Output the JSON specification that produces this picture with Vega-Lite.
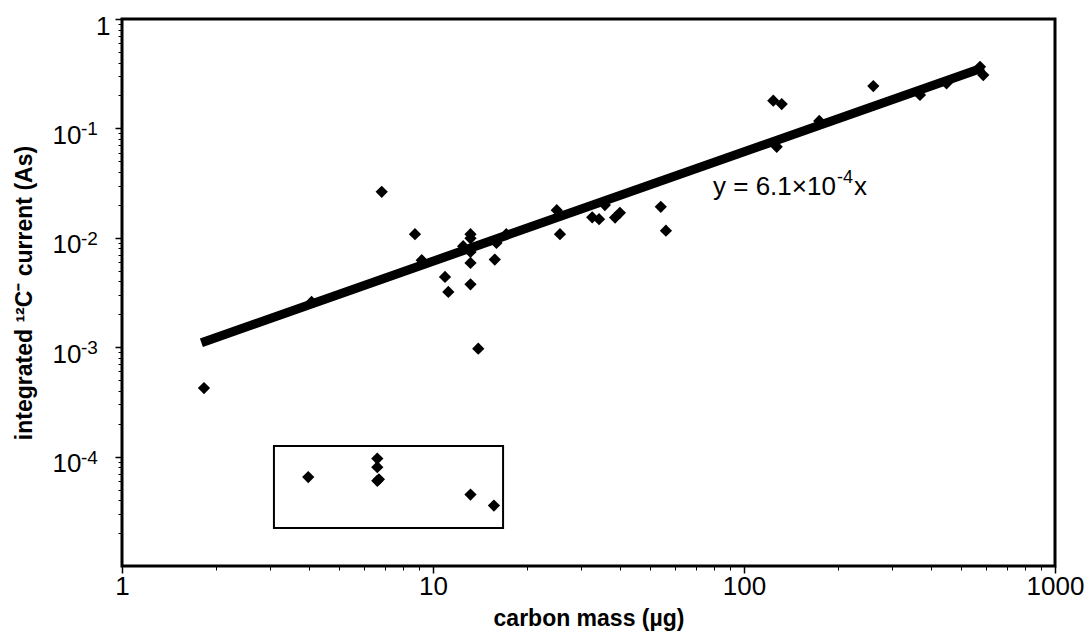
{
  "$schema": "https://vega.github.io/schema/vega-lite/v6.json",
  "width": 933,
  "height": 547,
  "autosize": {"type": "none"},
  "padding": {"left": 122, "top": 19, "right": 36, "bottom": 73},
  "background": "white",
  "config": {
    "view": {"stroke": "black", "strokeWidth": 3},
    "font": "Liberation Sans",
    "axis": {"grid": false, "domain": false, "tickColor": "black", "labelColor": "black", "titleColor": "black", "labelFont": "Liberation Sans", "titleFont": "Liberation Sans"}
  },
  "datasets": {
    "points": [
      {"mass": 1.835, "current": 0.000423},
      {"mass": 4.07, "current": 0.00259},
      {"mass": 6.84, "current": 0.0263},
      {"mass": 8.75, "current": 0.0108},
      {"mass": 9.2, "current": 0.00624},
      {"mass": 10.93, "current": 0.00439},
      {"mass": 11.2, "current": 0.0032},
      {"mass": 12.5, "current": 0.00838},
      {"mass": 13.2, "current": 0.0108},
      {"mass": 13.2, "current": 0.0099},
      {"mass": 13.2, "current": 0.00743},
      {"mass": 13.2, "current": 0.00589},
      {"mass": 13.2, "current": 0.00376},
      {"mass": 13.98, "current": 0.00097},
      {"mass": 15.8, "current": 0.00633},
      {"mass": 16.0, "current": 0.00898},
      {"mass": 17.2, "current": 0.0108},
      {"mass": 25.0, "current": 0.0179},
      {"mass": 25.6, "current": 0.0108},
      {"mass": 32.5, "current": 0.0154},
      {"mass": 34.2, "current": 0.0148},
      {"mass": 35.7, "current": 0.0199},
      {"mass": 38.5, "current": 0.0153},
      {"mass": 39.9, "current": 0.0169},
      {"mass": 54.0, "current": 0.0192},
      {"mass": 56.1, "current": 0.0116},
      {"mass": 124.2, "current": 0.179},
      {"mass": 132.2, "current": 0.167},
      {"mass": 127.4, "current": 0.0679},
      {"mass": 174.6, "current": 0.117},
      {"mass": 260.5, "current": 0.244},
      {"mass": 368, "current": 0.202},
      {"mass": 448, "current": 0.258},
      {"mass": 574, "current": 0.366},
      {"mass": 588, "current": 0.307},
      {"mass": 3.97, "current": 0.000065},
      {"mass": 6.62, "current": 0.000096},
      {"mass": 6.62, "current": 0.00008},
      {"mass": 6.62, "current": 0.00006},
      {"mass": 6.7, "current": 0.000062},
      {"mass": 13.2, "current": 0.000045},
      {"mass": 15.7, "current": 0.0000357}
    ],
    "fit": [
      {"mass": 1.8, "current": 0.0011},
      {"mass": 590, "current": 0.36}
    ],
    "box": [
      {"x1": 3.08, "x2": 16.8, "y1": 0.0000223, "y2": 0.000125}
    ],
    "label": [
      {"mass": 79.5, "current": 0.029, "main": "y = 6.1×10", "exp": "-4", "tail": "x"}
    ],
    "exponents": [
      {"mass": 1, "current": 0.1, "exp": "-1"},
      {"mass": 1, "current": 0.01, "exp": "-2"},
      {"mass": 1, "current": 0.001, "exp": "-3"},
      {"mass": 1, "current": 0.0001, "exp": "-4"}
    ]
  },
  "resolve": {"axis": {"x": "independent", "y": "independent"}},
  "layer": [
    {
      "data": {"name": "box"},
      "mark": {"type": "rect", "fill": null, "fillOpacity": 0, "stroke": "black", "strokeWidth": 2},
      "encoding": {
        "x": {"field": "x1", "type": "quantitative", "scale": {"type": "log", "domain": [1, 1000], "nice": false},
          "axis": {"orient": "bottom", "title": "carbon mass (µg)", "titleFontSize": 23, "titleFontWeight": "bold", "titlePadding": 8,
            "values": [1, 10, 100, 1000], "tickSize": 7, "tickWidth": 1.5, "labelFontSize": 26, "labelPadding": 0, "labelExpr": "format(datum.value, 'd')", "labelFlush": false, "labelOverlap": false}},
        "x2": {"field": "x2"},
        "y": {"field": "y1", "type": "quantitative", "scale": {"type": "log", "domain": [0.00001, 1], "nice": false},
          "axis": {"orient": "left", "title": "integrated ¹²C⁻ current (As)", "titleFontSize": 23, "titleFontWeight": "bold", "titlePadding": 16,
            "values": [1, 0.1, 0.01, 0.001, 0.0001], "tickSize": 7, "tickWidth": 1.5, "labelFontSize": 26, "labelOffset": 7,
            "labelPadding": {"condition": {"test": "datum.value > 0.5", "value": 5}, "value": 34},
            "labelFlush": false, "labelOverlap": false,
            "labelExpr": "datum.value > 0.5 ? '1' : '10'"}},
        "y2": {"field": "y2"}
      }
    },
    {
      "data": {"name": "fit"},
      "mark": {"type": "line", "color": "black", "strokeWidth": 9, "strokeCap": "butt"},
      "encoding": {
        "x": {"field": "mass", "type": "quantitative", "scale": {"type": "log", "domain": [1, 1000], "nice": false},
          "axis": {"orient": "bottom", "title": null, "labels": false, "tickSize": 4, "tickWidth": 1,
            "values": [2,3,4,5,6,7,8,9,20,30,40,50,60,70,80,90,200,300,400,500,600,700,800,900]}},
        "y": {"field": "current", "type": "quantitative", "scale": {"type": "log", "domain": [0.00001, 1], "nice": false},
          "axis": {"orient": "left", "title": null, "labels": false, "tickSize": 4, "tickWidth": 1,
            "values": [0.00002,0.00003,0.00004,0.00005,0.00006,0.00007,0.00008,0.00009,0.0002,0.0003,0.0004,0.0005,0.0006,0.0007,0.0008,0.0009,0.002,0.003,0.004,0.005,0.006,0.007,0.008,0.009,0.02,0.03,0.04,0.05,0.06,0.07,0.08,0.09,0.2,0.3,0.4,0.5,0.6,0.7,0.8,0.9]}}
      }
    },
    {
      "data": {"name": "points"},
      "mark": {"type": "point", "shape": "diamond", "filled": true, "color": "black", "size": 150, "opacity": 1},
      "encoding": {
        "x": {"field": "mass", "type": "quantitative", "axis": null},
        "y": {"field": "current", "type": "quantitative", "axis": null}
      }
    },
    {
      "data": {"name": "exponents"},
      "mark": {"type": "text", "align": "left", "baseline": "middle", "fontSize": 19, "font": "Liberation Sans", "color": "black", "dx": -41, "dy": 1},
      "encoding": {
        "x": {"field": "mass", "type": "quantitative", "axis": null},
        "y": {"field": "current", "type": "quantitative", "axis": null},
        "text": {"field": "exp"}
      }
    },
    {
      "data": {"name": "label"},
      "layer": [
        {
          "mark": {"type": "text", "align": "left", "baseline": "middle", "fontSize": 26, "font": "Liberation Sans", "color": "black"},
          "encoding": {"text": {"field": "main"}}
        },
        {
          "mark": {"type": "text", "align": "left", "baseline": "middle", "fontSize": 18, "font": "Liberation Sans", "color": "black", "dx": 124, "dy": -9},
          "encoding": {"text": {"field": "exp"}}
        },
        {
          "mark": {"type": "text", "align": "left", "baseline": "middle", "fontSize": 26, "font": "Liberation Sans", "color": "black", "dx": 141},
          "encoding": {"text": {"field": "tail"}}
        }
      ],
      "encoding": {
        "x": {"field": "mass", "type": "quantitative", "axis": null},
        "y": {"field": "current", "type": "quantitative", "axis": null}
      }
    }
  ]
}
